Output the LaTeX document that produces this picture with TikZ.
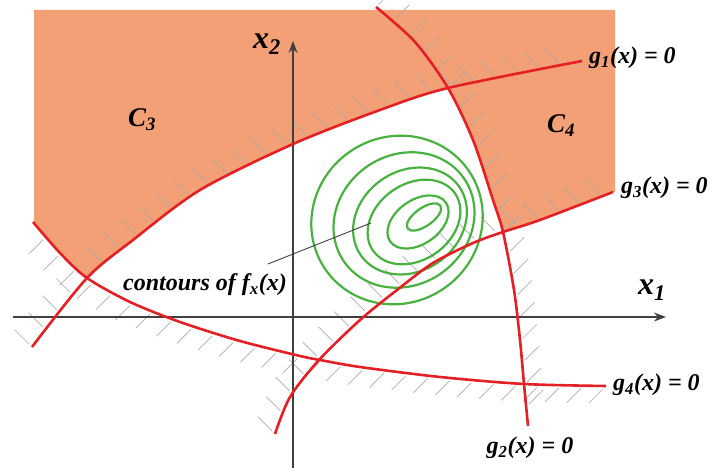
\documentclass[tikz,border=0pt]{standalone}
\usepackage{fontspec}
\setmainfont{Liberation Serif}
\usetikzlibrary{arrows.meta, decorations.markings}

\definecolor{regionfill}{RGB}{243,160,118}
\definecolor{constr}{RGB}{228,32,36}
\definecolor{contgreen}{RGB}{72,178,64}

\begin{document}
\begin{tikzpicture}[x=1pt, y=1pt,
  constraint/.style={draw=constr, line width=2.6pt},
  hatchline/.style={draw=gray!65, line width=0.7pt},
  hatch/.style={decorate, decoration={markings,
    mark=between positions 0 and 1 step 22pt with {\pgftransformresetnontranslations
      \draw[hatchline] (#1:4pt) -- (#1:24pt);}}},
  contour/.style={draw=contgreen, line width=2.2pt},
  axis/.style={draw=black!75, line width=1.1pt, -{Stealth[length=12pt, width=9pt]}},
  leader/.style={draw=black!75, line width=0.9pt},
  lbl/.style={font=\fontsize{24}{28}\selectfont\bfseries\itshape, inner sep=1pt},
  region/.style={font=\fontsize{27}{30}\selectfont\bfseries\itshape, inner sep=1pt},
  axlbl/.style={font=\fontsize{32}{36}\selectfont\bfseries\itshape, inner sep=1pt}
]
\useasboundingbox (0,0) rectangle (718,468);

% shaded regions C3 and C4
\fill[regionfill] (34,458) -- (615,458) -- (615,276)
  -- plot[smooth] coordinates {(613,276) (540,248) (503,236)}
  -- plot[smooth] coordinates {(503,236) (493,268) (473,328) (448,380)}
  -- plot[smooth] coordinates {(448,380) (380,358) (293,324) (200,278) (133,228) (87,190)}
  -- plot[smooth] coordinates {(87,190) (60,215) (34,246)}
  -- cycle;

% hatching on the infeasible sides
\path[hatch=135] (32,121) -- (87,190) -- (133,228) -- (200,278) -- (293,324) -- (380,358) -- (448,380) -- (582,407);
\path[hatch=45] (376,461) -- (415,426) -- (448,380) -- (473,328) -- (493,268) -- (503,236) -- (514,178) -- (520,128) -- (524,84) -- (528,42);
\path[hatch=135] (275,34) -- (290,71) -- (319,108) -- (360,148) -- (397,178) -- (433,205) -- (473,225) -- (503,236) -- (540,248) -- (613,276);
\path[hatch=225] (606,82) -- (524,84) -- (440,91) -- (360,101) -- (300,112) -- (240,127) -- (180,146) -- (130,166) -- (87,190) -- (60,215) -- (33,246);

% axes
\coordinate (x1start) at (13,151);
\coordinate (x1end) at (666,151);
\coordinate (x2start) at (293,0);
\coordinate (x2end) at (293,427);
\draw[axis] (x1start) -- (x1end);
\draw[axis] (x2start) -- (x2end);
\node[axlbl] (x1lbl) at (652,178) {x\textsubscript{1}};
\node[axlbl] (x2lbl) at (267,424) {x\textsubscript{2}};

% contours of the objective
\foreach \cx/\cy/\ra/\rb in {397/248/87/83, 404/248/73/65, 410/247/60/50, 414/246/50/38, 418/246/34/22, 424/251/20/9}
  \draw[contour, rotate around={35:(\cx,\cy)}] (\cx,\cy) ellipse [x radius=\ra pt, y radius=\rb pt];

\node[lbl] (contlbl) at (205,183) {contours of f\textsubscript{x}(x)};
\coordinate (leadA) at (268,204);
\coordinate (leadB) at (371,245);
\draw[leader] (leadA) -- (leadB);

% constraint curves
\draw[constraint] plot[smooth] coordinates {(32,121) (87,190) (133,228) (200,278) (293,324) (380,358) (448,380) (582,407)};
\draw[constraint] plot[smooth] coordinates {(376,461) (415,426) (448,380) (473,328) (493,268) (503,236) (514,178) (520,128) (524,84) (528,42)};
\draw[constraint] plot[smooth] coordinates {(275,34) (290,71) (319,108) (360,148) (397,178) (433,205) (473,225) (503,236) (540,248) (613,276)};
\draw[constraint] plot[smooth] coordinates {(33,246) (60,215) (87,190) (130,166) (180,146) (240,127) (300,112) (320,108) (360,101) (440,91) (524,84) (606,82)};

\node[lbl, anchor=west] (g1lbl) at (588,410) {g\textsubscript{1}(x) = 0};
\node[lbl] (g2lbl) at (530,20) {g\textsubscript{2}(x) = 0};
\node[lbl, anchor=west] (g3lbl) at (620,280) {g\textsubscript{3}(x) = 0};
\node[lbl, anchor=west] (g4lbl) at (612,83) {g\textsubscript{4}(x) = 0};

\node[region] (c3lbl) at (142,348) {C\textsubscript{3}};
\node[region] (c4lbl) at (561,342) {C\textsubscript{4}};
\end{tikzpicture}
\end{document}
